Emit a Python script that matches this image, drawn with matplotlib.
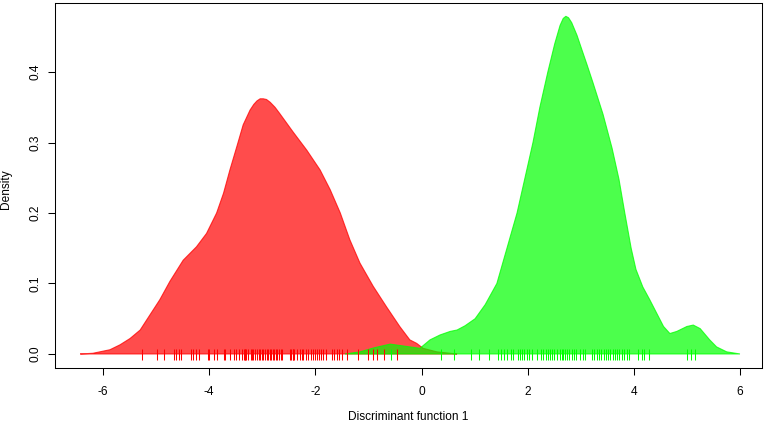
import matplotlib
matplotlib.use('Agg')
import matplotlib.pyplot as plt

# Density curve of group 1 (red)
red_x = [-6.43, -6.19, -5.87, -5.68, -5.49, -5.30, -5.18, -4.93, -4.74, -4.49,
         -4.24, -4.05, -3.86, -3.73, -3.61, -3.48, -3.36, -3.23, -3.16, -3.10,
         -3.04, -2.98, -2.92, -2.85, -2.76, -2.67, -2.42, -2.16, -1.91, -1.72,
         -1.53, -1.35, -1.16, -0.91, -0.66, -0.41, -0.22, -0.09, 0.03, 0.29,
         0.54, 0.67]
red_y = [0.0, 0.001, 0.006, 0.013, 0.022, 0.034, 0.048, 0.077, 0.103, 0.133,
         0.152, 0.171, 0.200, 0.228, 0.261, 0.294, 0.325, 0.346, 0.354, 0.359,
         0.362, 0.362, 0.361, 0.357, 0.350, 0.341, 0.315, 0.289, 0.261, 0.233,
         0.200, 0.162, 0.129, 0.096, 0.067, 0.039, 0.020, 0.015, 0.008, 0.003,
         0.001, 0.0]

# Density curve of group 2 (green)
green_x = [-1.44, -1.16, -0.88, -0.59, -0.31, -0.03, 0.16, 0.35, 0.54, 0.67,
           0.82, 1.01, 1.20, 1.42, 1.61, 1.80, 1.95, 2.10, 2.23, 2.38,
           2.51, 2.61, 2.67, 2.72, 2.77, 2.83, 2.93, 3.02, 3.12, 3.23,
           3.42, 3.59, 3.72, 3.83, 3.95, 4.04, 4.17, 4.30, 4.43, 4.56,
           4.68, 4.81, 5.00, 5.12, 5.25, 5.43, 5.56, 5.75, 6.00]
green_y = [0.0, 0.003, 0.009, 0.014, 0.011, 0.008, 0.020, 0.027, 0.032, 0.034,
           0.040, 0.050, 0.070, 0.100, 0.150, 0.200, 0.250, 0.300, 0.350, 0.400,
           0.440, 0.466, 0.476, 0.479, 0.477, 0.470, 0.452, 0.432, 0.410, 0.385,
           0.340, 0.292, 0.248, 0.200, 0.150, 0.120, 0.095, 0.077, 0.058, 0.039,
           0.029, 0.032, 0.039, 0.041, 0.036, 0.020, 0.010, 0.003, 0.0]

# Individual scores (rug)
red_rug = [-5.27, -4.98, -4.85, -4.67, -4.63, -4.57, -4.54, -4.35, -4.30, -4.24,
           -4.19, -4.03, -4.00, -3.90, -3.85, -3.73, -3.70, -3.60, -3.54, -3.49,
           -3.44, -3.39, -3.35, -3.33, -3.32, -3.30, -3.26, -3.22, -3.19, -3.17,
           -3.14, -3.10, -3.07, -3.04, -3.01, -2.98, -2.95, -2.92, -2.89, -2.85,
           -2.84, -2.80, -2.77, -2.74, -2.72, -2.68, -2.65, -2.62, -2.48, -2.46,
           -2.43, -2.42, -2.40, -2.35, -2.29, -2.26, -2.23, -2.18, -2.13, -2.08,
           -2.04, -2.01, -1.97, -1.94, -1.90, -1.85, -1.79, -1.69, -1.65, -1.60,
           -1.55, -1.50, -1.40, -1.19, -1.00, -0.91, -0.84, -0.70, -0.47]
green_rug = [-0.58, 0.36, 0.62, 0.93, 1.09, 1.28, 1.45, 1.50, 1.55, 1.62,
             1.68, 1.73, 1.82, 1.86, 1.89, 1.94, 1.98, 2.02, 2.08, 2.17,
             2.26, 2.29, 2.35, 2.39, 2.42, 2.45, 2.50, 2.55, 2.60, 2.64,
             2.67, 2.70, 2.74, 2.78, 2.83, 2.87, 2.92, 2.99, 3.05, 3.08,
             3.21, 3.25, 3.30, 3.35, 3.39, 3.44, 3.48, 3.52, 3.55, 3.60,
             3.65, 3.69, 3.73, 3.77, 3.82, 3.87, 3.90, 4.07, 4.16, 4.19,
             4.29, 5.01, 5.08, 5.16]

x_ticks = [-6, -4, -2, 0, 2, 4, 6]
y_ticks = [0.0, 0.1, 0.2, 0.3, 0.4]

plt.rcParams['font.family'] = ['Liberation Sans', 'DejaVu Sans']

W, H = 767, 423
fig = plt.figure(figsize=(W / 100, H / 100), dpi=100)
ax = fig.add_axes([55 / W, (H - 368) / H, (762 - 55) / W, (368 - 3) / H])

ax.fill(red_x, red_y, facecolor=(1, 0, 0, 0.7), edgecolor=(1, 0, 0, 0.75), lw=0.8)
ax.fill(green_x, green_y, facecolor=(0, 1, 0, 0.7), edgecolor=(0, 1, 0, 0.75), lw=0.8)

ax.vlines(red_rug, -0.0085, 0.007, color='#ff0000', lw=0.75)
ax.vlines(green_rug, -0.0085, 0.007, color='#00ff00', lw=0.75)

ax.set_xlim(-6.905, 6.415)
ax.set_ylim(-0.0199, 0.4979)
ax.set_xticks(x_ticks)
ax.set_xticklabels([str(t) for t in x_ticks])
ax.set_yticks(y_ticks)
ax.set_yticklabels([f'{t:.1f}' for t in y_ticks])

ax.tick_params(axis='both', direction='out', length=5, width=0.75, labelsize=8.6,
               color='black')
ax.tick_params(axis='x', pad=8)
ax.tick_params(axis='y', pad=4.5, labelrotation=90)
for lbl in ax.get_yticklabels():
    lbl.set_va('center')

for s in ax.spines.values():
    s.set_linewidth(0.75)
    s.set_color('black')

ax.set_xlabel('Discriminant function 1', fontsize=8.6, va='center')
ax.xaxis.set_label_coords(0.5, -0.134)
ax.set_ylabel('Density', fontsize=8.6, va='center', ha='center')
ax.yaxis.set_label_coords(-0.0693, 0.49)

fig.savefig('out.png', dpi=100)
